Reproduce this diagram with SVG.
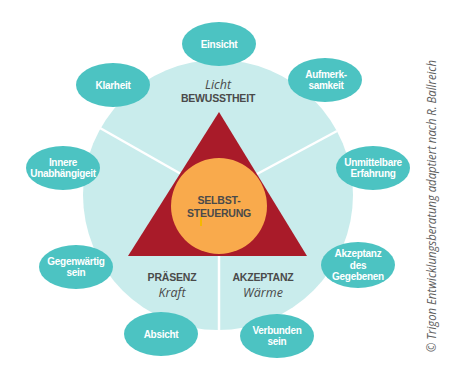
<svg xmlns="http://www.w3.org/2000/svg" width="469" height="378" viewBox="0 0 469 378">
<style>
.bub{fill:#4cc3c2}
.bt{font-family:"Liberation Sans",Arial,sans-serif;font-weight:bold;font-size:10px;fill:#ffffff;text-anchor:middle;letter-spacing:-0.3px}
.lab{font-family:"Liberation Sans",Arial,sans-serif;font-weight:bold;font-size:10.5px;fill:#4a4a4a;text-anchor:middle;letter-spacing:-0.2px}
.it{font-family:"Open Sans","Liberation Sans",sans-serif;font-style:italic;font-size:12.5px;fill:#4a4a4a;text-anchor:middle}
.div{stroke:#ffffff;stroke-width:2.5;fill:none}
</style>
<rect width="469" height="378" fill="#ffffff"/>
<g id="wheel">
<circle cx="218" cy="195" r="135" fill="#c9ecec"/>
</g>
<g id="connectors">
<line class="div" x1="218" y1="195" x2="100" y2="128"/>
<line class="div" x1="218" y1="195" x2="337" y2="131"/>
<line class="div" x1="219" y1="250" x2="219" y2="331"/>
</g>
<g id="triangle">
<polygon points="219,112 128,256 307,256" fill="#a91b29"/>
</g>
<g id="center">
<circle cx="219" cy="206" r="48" fill="#f9aa4c"/>
<rect x="200" y="217" width="2" height="9" fill="#f5b800"/>
<text class="lab" x="219" y="204">SELBST-</text>
<text class="lab" x="219" y="216.5">STEUERUNG</text>
</g>
<g id="sector-bewusstheit">
<text class="it" x="218" y="89">Licht</text>
<text class="lab" x="218" y="102">BEWUSSTHEIT</text>
</g>
<g id="sector-praesenz">
<text class="lab" x="172" y="281">PRÄSENZ</text>
<text class="it" x="172" y="297">Kraft</text>
</g>
<g id="sector-akzeptanz">
<text class="lab" x="263" y="281">AKZEPTANZ</text>
<text class="it" x="263" y="297">Wärme</text>
</g>
<g id="einsicht">
<ellipse class="bub" cx="219" cy="44" rx="37" ry="22"/>
<text class="bt" x="219" y="47.6">Einsicht</text>
</g>
<g id="klarheit">
<ellipse class="bub" cx="113" cy="85" rx="37" ry="22"/>
<text class="bt" x="113" y="88.6">Klarheit</text>
</g>
<g id="aufmerksamkeit">
<ellipse class="bub" cx="325" cy="80" rx="37" ry="22"/>
<text class="bt" x="326" y="78">Aufmerk-</text>
<text class="bt" x="326" y="89.3">samkeit</text>
</g>
<g id="innere-unabhaengigkeit">
<ellipse class="bub" cx="63" cy="168" rx="37" ry="22"/>
<text class="bt" x="63" y="166">Innere</text>
<text class="bt" x="63" y="177.3">Unabhängigeit</text>
</g>
<g id="unmittelbare-erfahrung">
<ellipse class="bub" cx="373" cy="168" rx="37" ry="22"/>
<text class="bt" x="373" y="166">Unmittelbare</text>
<text class="bt" x="373" y="177.3">Erfahrung</text>
</g>
<g id="gegenwaertig-sein">
<ellipse class="bub" cx="76" cy="267" rx="37" ry="22"/>
<text class="bt" x="76" y="265">Gegenwärtig</text>
<text class="bt" x="76" y="276.3">sein</text>
</g>
<g id="akzeptanz-des-gegebenen">
<ellipse class="bub" cx="358" cy="265" rx="37" ry="23"/>
<text class="bt" x="358" y="257.4">Akzeptanz</text>
<text class="bt" x="358" y="268.7">des</text>
<text class="bt" x="358" y="280">Gegebenen</text>
</g>
<g id="absicht">
<ellipse class="bub" cx="161" cy="334" rx="37" ry="22"/>
<text class="bt" x="161" y="337.6">Absicht</text>
</g>
<g id="verbunden-sein">
<ellipse class="bub" cx="277" cy="336" rx="37" ry="22"/>
<text class="bt" x="277" y="334">Verbunden</text>
<text class="bt" x="277" y="345.3">sein</text>
</g>
<text transform="translate(436,206) rotate(-90)" x="0" y="0" text-anchor="middle" textLength="292" lengthAdjust="spacingAndGlyphs" style="font-family:'Open Sans','Liberation Sans',sans-serif;font-style:italic;font-size:12px;fill:#5e5e5e">© Trigon Entwicklungsberatung adaptiert nach R. Ballreich</text>
</svg>
